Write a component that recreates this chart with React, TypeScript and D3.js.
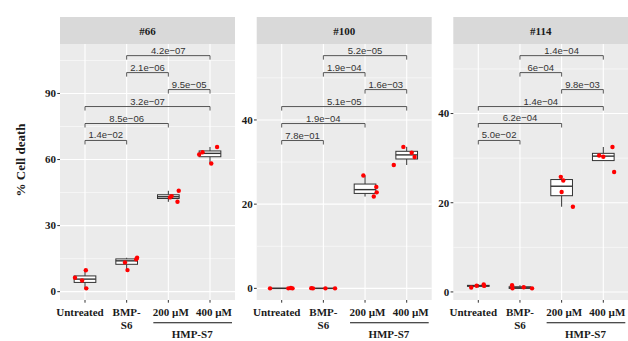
import React from "react";
import * as d3 from "d3";

const categories = ["Untreated", "BMP-S6", "200 µM", "400 µM"];
const xLabelLines = [["Untreated"], ["BMP-", "S6"], ["200 µM"], ["400 µM"]];
const panelTitles = ["#66", "#100", "#114"];

// values per panel, per category (4 replicates each)
const values66 = [
  [6.3, 5.1, 9.7, 1.5],
  [13.3, 15.4, 14.7, 9.8],
  [45.8, 43.4, 42.8, 40.8],
  [65.7, 63.3, 62.3, 58.2],
];
const values100 = [
  [0, 0, 0.1, 0],
  [0.05, 0, 0, 0],
  [26.8, 24.1, 22.8, 21.8],
  [33.6, 32.2, 31.2, 29.3],
];
const values114 = [
  [1.0, 1.4, 1.7, 1.35],
  [1.5, 0.8, 1.05, 0.8],
  [25.8, 25.0, 22.4, 19.1],
  [32.5, 30.6, 30.3, 26.9],
];
// horizontal jitter of each point (in category units)
const jitter66 = [
  [-0.24, -0.07, 0.02, 0.03],
  [-0.04, 0.25, 0.23, 0.02],
  [0.25, 0.08, 0.04, 0.22],
  [0.17, -0.18, -0.26, 0.03],
];
const jitter100 = [
  [-0.28, 0.16, 0.22, 0.26],
  [-0.29, -0.25, 0.05, 0.28],
  [-0.04, 0.27, 0.28, 0.21],
  [-0.08, 0.12, 0.19, -0.31],
];
const jitter114 = [
  [-0.17, -0.04, 0.13, 0.14],
  [-0.19, -0.18, 0.09, 0.29],
  [-0.02, 0.04, 0.0, 0.27],
  [0.22, -0.1, 0.0, 0.26],
];

const bracketPairs: [number, number][] = [
  [0, 1],
  [0, 2],
  [0, 3],
  [2, 3],
  [1, 2],
  [1, 3],
];
const pLabels66 = ["1.4e-02", "8.5e-06", "3.2e-07", "9.5e-05", "2.1e-06", "4.2e-07"];
const pLabels100 = ["7.8e-01", "1.9e-04", "5.1e-05", "1.6e-03", "1.9e-04", "5.2e-05"];
const pLabels114 = ["5.0e-02", "6.2e-04", "1.4e-04", "9.8e-03", "6e-04", "1.4e-04"];

const yTicks66 = [0, 30, 60, 90];
const yTicks100 = [0, 20, 40];
const yTicks114 = [0, 20, 40];

const panelValues = [values66, values100, values114];
const panelJitter = [jitter66, jitter100, jitter114];
const panelPLabels = [pLabels66, pLabels100, pLabels114];
const panelTicks = [yTicks66, yTicks100, yTicks114];

const W = 628;
const H = 341;
const panelX0 = [60, 256.7, 453.3];
const panelW = 175;
const stripTop = 17;
const panelTop = 44;
const panelBottom = 300;
const serif = "'Liberation Serif', 'Times New Roman', serif";
const sans = "'Liberation Sans', Arial, sans-serif";
const xLabelNudge = [-5, 0, 2.5, 4];

function Panel({ idx }: { idx: number }) {
  const vals = panelValues[idx];
  const jit = panelJitter[idx];
  const labels = panelPLabels[idx];
  const ticks = panelTicks[idx];
  const x0 = panelX0[idx];

  const all = vals.flat();
  const dMax = d3.max(all) as number;
  const dMin = d3.min(all) as number;
  const step = 0.12 * (dMax - dMin);
  const bracketY = bracketPairs.map((_, i) => dMax * 1.045 + i * step);
  const top = bracketY[bracketY.length - 1];
  const span = top - dMin;
  const y = d3
    .scaleLinear()
    .domain([dMin - 0.05 * span, top + 0.05 * span])
    .range([panelBottom, panelTop]);
  const x = d3.scaleLinear().domain([0.4, 4.6]).range([x0, x0 + panelW]);
  const bw = (x(2) - x(1)) * 0.52;

  const minorTicks: number[] = [];
  const tstep = ticks[1] - ticks[0];
  for (let t = ticks[0] - tstep / 2; t <= y.domain()[1]; t += tstep) {
    if (t >= y.domain()[0]) minorTicks.push(t);
  }

  return (
    <g>
      <rect x={x0} y={stripTop} width={panelW} height={panelTop - stripTop} fill="#d9d9d9" />
      <text
        x={x0 + panelW / 2}
        y={(stripTop + panelTop) / 2 + 4}
        textAnchor="middle"
        fontFamily={serif}
        fontWeight="bold"
        fontSize={11}
        fill="#1a1a1a"
      >
        {panelTitles[idx]}
      </text>
      <rect x={x0} y={panelTop} width={panelW} height={panelBottom - panelTop} fill="#ebebeb" />
      {minorTicks.map((t, i) => (
        <line key={"mn" + i} x1={x0} x2={x0 + panelW} y1={y(t)} y2={y(t)} stroke="#fff" strokeWidth={0.55} />
      ))}
      {ticks.map((t) => (
        <line key={"mj" + t} x1={x0} x2={x0 + panelW} y1={y(t)} y2={y(t)} stroke="#fff" strokeWidth={1.1} />
      ))}
      {categories.map((c, i) => (
        <line key={"v" + c} x1={x(i + 1)} x2={x(i + 1)} y1={panelTop} y2={panelBottom} stroke="#fff" strokeWidth={1.1} />
      ))}
      {ticks.map((t) => (
        <g key={"yt" + t}>
          <line x1={x0 - 2.7} x2={x0} y1={y(t)} y2={y(t)} stroke="#333" strokeWidth={1} />
          <text
            x={x0 - 4}
            y={y(t) + 3.8}
            textAnchor="end"
            fontFamily={serif}
            fontWeight="bold"
            fontSize={11}
            fill="#1a1a1a"
          >
            {t}
          </text>
        </g>
      ))}
      {categories.map((c, i) => (
        <g key={"xt" + c}>
          <line x1={x(i + 1)} x2={x(i + 1)} y1={panelBottom} y2={panelBottom + 2.7} stroke="#333" strokeWidth={1} />
          {xLabelLines[i].map((ln, j) => (
            <text
              key={ln}
              x={x(i + 1) + xLabelNudge[i]}
              y={316 + j * 13}
              textAnchor="middle"
              fontFamily={serif}
              fontWeight="bold"
              fontSize={11}
              fill="#1a1a1a"
            >
              {ln}
            </text>
          ))}
        </g>
      ))}
      <line x1={x(3) - 15} x2={x(4) + 22} y1={322.7} y2={322.7} stroke="#111" strokeWidth={1.1} />
      <text
        x={(x(3) + x(4)) / 2 + 3}
        y={338}
        textAnchor="middle"
        fontFamily={serif}
        fontWeight="bold"
        fontSize={11}
        fill="#1a1a1a"
      >
        HMP-S7
      </text>
      {vals.map((v, i) => {
        const s = [...v].sort((a, b) => a - b);
        const q1 = d3.quantile(s, 0.25) as number;
        const med = d3.quantile(s, 0.5) as number;
        const q3 = d3.quantile(s, 0.75) as number;
        const iqr = q3 - q1;
        const lo = d3.min(s.filter((d) => d >= q1 - 1.5 * iqr)) as number;
        const hi = d3.max(s.filter((d) => d <= q3 + 1.5 * iqr)) as number;
        const cx = x(i + 1);
        return (
          <g key={"b" + i}>
            <line x1={cx} x2={cx} y1={y(hi)} y2={y(q3)} stroke="#333" strokeWidth={1} />
            <line x1={cx} x2={cx} y1={y(q1)} y2={y(lo)} stroke="#333" strokeWidth={1} />
            <rect
              x={cx - bw / 2}
              y={y(q3)}
              width={bw}
              height={Math.max(0, y(q1) - y(q3))}
              fill="#fff"
              stroke="#333"
              strokeWidth={1}
            />
            <line x1={cx - bw / 2} x2={cx + bw / 2} y1={y(med)} y2={y(med)} stroke="#333" strokeWidth={1.4} />
          </g>
        );
      })}
      {vals.map((v, i) =>
        v.map((d, k) => (
          <circle key={"p" + i + "-" + k} cx={x(i + 1 + jit[i][k])} cy={y(d)} r={2.2} fill="#ff0000" />
        ))
      )}
      {bracketPairs.map(([a, b], i) => {
        const by = y(bracketY[i]);
        const xa = x(a + 1);
        const xb = x(b + 1);
        return (
          <g key={"br" + i}>
            <path
              d={`M${xa},${by + 4}V${by}H${xb}V${by + 4}`}
              fill="none"
              stroke="#444"
              strokeWidth={0.9}
            />
            <text
              x={(xa + xb) / 2}
              y={by - 2}
              textAnchor="middle"
              fontFamily={sans}
              fontSize={9.5}
              fill="#333"
            >
              {labels[i].replace("-", "\u2212")}
            </text>
          </g>
        );
      })}
    </g>
  );
}

export default function App() {
  return (
    <svg
      width={W}
      height={H}
      viewBox={`0 0 ${W} ${H}`}
      style={{ position: "fixed", left: 0, top: 0, background: "#fff" }}
    >
      <rect x={0} y={0} width={W} height={H} fill="#fff" />
      {panelTitles.map((_, i) => (
        <Panel key={i} idx={i} />
      ))}
      <text
        transform={`translate(25,160) rotate(-90)`}
        textAnchor="middle"
        fontFamily={serif}
        fontWeight="bold"
        fontSize={13}
        fill="#1a1a1a"
      >
        % Cell death
      </text>
    </svg>
  );
}
